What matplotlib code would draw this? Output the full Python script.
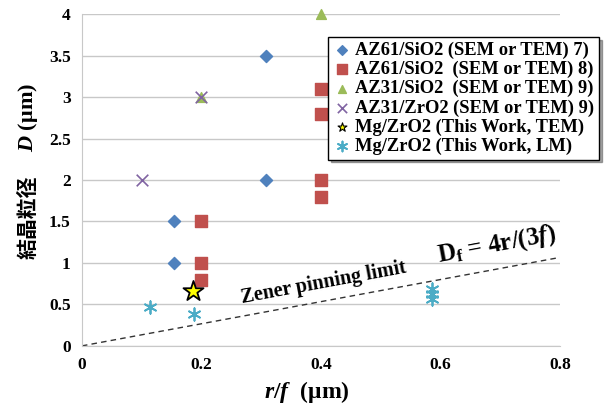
import matplotlib.pyplot as plt

# data
az61_7_x = [0.154, 0.154, 0.308, 0.308]
az61_7_y = [1.0, 1.5, 2.0, 3.5]
az61_8_x = [0.2, 0.2, 0.2, 0.4, 0.4, 0.4, 0.4]
az61_8_y = [1.5, 1.0, 0.8, 3.1, 2.8, 2.0, 1.8]
az31_si_x = [0.2, 0.4]
az31_si_y = [3.0, 4.0]
az31_zr_x = [0.1, 0.2]
az31_zr_y = [2.0, 3.0]
tem_x = [0.186]
tem_y = [0.66]
lm_x = [0.114, 0.187, 0.586, 0.586, 0.586]
lm_y = [0.47, 0.38, 0.57, 0.63, 0.68]
zener_x = [0, 0.8]
zener_y = [4 * x / 3 for x in zener_x]

plt.rcParams['font.family'] = ['Liberation Serif', 'Noto Sans CJK JP']
plt.rcParams['font.weight'] = 'bold'
plt.rcParams['mathtext.fontset'] = 'custom'
plt.rcParams['mathtext.rm'] = 'Liberation Serif:bold'
plt.rcParams['mathtext.it'] = 'Liberation Serif:italic:bold'
plt.rcParams['mathtext.bf'] = 'Liberation Serif:bold'

fig = plt.figure(figsize=(6.16, 4.05), dpi=100)
ax = fig.add_axes([0.133, 0.146, 0.776, 0.819])

ax.plot(zener_x, zener_y, linestyle=(0, (4, 3)), color='#333333', linewidth=1.0)

ax.scatter(az61_7_x, az61_7_y, marker='D', s=38, color='#4F81BD', label='AZ61/SiO2 (SEM or TEM) 7)', zorder=3)
ax.scatter(az61_8_x, az61_8_y, marker='s', s=85, color='#C0504D', label='AZ61/SiO2  (SEM or TEM) 8)', zorder=3)
ax.scatter(az31_si_x, az31_si_y, marker='^', s=50, color='#9BBB59', label='AZ31/SiO2  (SEM or TEM) 9)',
           zorder=3, clip_on=False)
ax.scatter(az31_zr_x, az31_zr_y, marker='x', s=70, color='#8064A2', linewidths=1.2, label='AZ31/ZrO2 (SEM or TEM) 9)', zorder=3)
ax.scatter(tem_x, tem_y, marker='*', s=230, facecolor='#FFFF00', edgecolor='black', linewidths=1.3, label='Mg/ZrO2 (This Work, TEM)', zorder=4)
ax.scatter(lm_x, lm_y, marker=(6, 2, 0), s=80, color='#4BACC6', linewidths=1.3, label='Mg/ZrO2 (This Work, LM)', zorder=3)

ax.set_xlim(0, 0.8)
ax.set_ylim(0, 4)
ax.set_xticks([0, 0.2, 0.4, 0.6, 0.8])
ax.set_xticklabels(['0', '0.2', '0.4', '0.6', '0.8'])
ax.set_yticks([0, 0.5, 1, 1.5, 2, 2.5, 3, 3.5, 4])
ax.set_yticklabels(['0', '0.5', '1', '1.5', '2', '2.5', '3', '3.5', '4'])
ax.tick_params(axis='both', length=0, labelsize=12.5, pad=8)
ax.grid(axis='y', color='#C8C8C8', linewidth=1.0)
ax.set_axisbelow(True)
for side in ['top', 'right']:
    ax.spines[side].set_visible(False)
ax.spines['left'].set_color('#C8C8C8')
ax.spines['bottom'].set_color('#C8C8C8')

ax.set_xlabel(r'$r/f\ \ \mathrm{(μm)}$', fontsize=17)
ax.xaxis.set_label_coords(0.47, -0.1)

# y label in two pieces so the Japanese glyphs come from the CJK font
fig.text(0.046, 0.464, '結晶粒径', fontsize=15, rotation=90, ha='center', va='center',
         family='Noto Sans CJK JP', weight='bold')
fig.text(0.046, 0.711, r'$D\ \mathrm{(μm)}$', fontsize=16, rotation=90, ha='center', va='center')

ax.text(0.405, 0.76, 'Zener pinning limit', fontsize=14.5, rotation=10.5, ha='center', va='center')
ax.text(0.695, 1.22, r'D$_\mathrm{f}$ = 4r/(3$f$)', fontsize=18, rotation=10.5, ha='center', va='center')

leg = ax.legend(loc='upper right', bbox_to_anchor=(0.987, 0.931), bbox_transform=fig.transFigure,
                fontsize=13.3, handletextpad=0.2, borderpad=0.25, labelspacing=0.1,
                handlelength=1.0, fancybox=False, shadow=True, framealpha=1, edgecolor='black',
                markerscale=0.8)
leg.get_frame().set_linewidth(1.0)
leg.legend_handles[4].set_sizes([45])
leg.legend_handles[4].set_linewidths([0.8])

plt.savefig('out.png', dpi=100)
